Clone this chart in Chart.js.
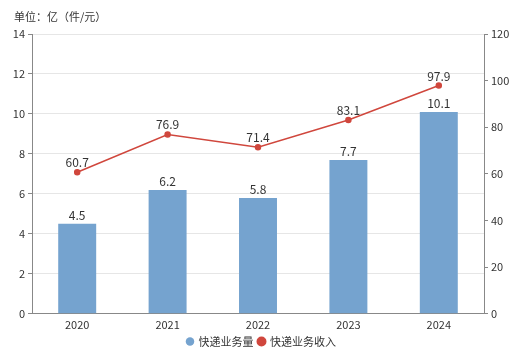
<!DOCTYPE html>
<html><head><meta charset="utf-8">
<script src="https://cdn.jsdelivr.net/npm/chart.js@4/dist/chart.umd.min.js"></script>
<style>html,body{margin:0;padding:0;background:#fff}#wrap{width:523px;height:360px}</style>
</head><body><div id="wrap"><canvas id="c"></canvas></div>
<script>
const categories = ['2020','2021','2022','2023','2024'];
const volume = [4.5, 6.2, 5.8, 7.7, 10.1];
const revenue = [60.7, 76.9, 71.4, 83.1, 97.9];
const leftTicks = [0,2,4,6,8,10,12,14];
const rightTicks = [0,20,40,60,80,100,120];
const unitText = '单位：亿（件/元）';
const FONT = '"Noto Sans CJK SC","Noto Sans",sans-serif';

const labelPlugin = {
  id: 'labels',
  afterDatasetsDraw(chart) {
    const ctx = chart.ctx;
    ctx.save();
    ctx.font = '12px ' + FONT;
    ctx.fillStyle = '#333';
    ctx.textAlign = 'center';
    ctx.textBaseline = 'alphabetic';
    chart.data.datasets.forEach((ds, i) => {
      const meta = chart.getDatasetMeta(i);
      meta.data.forEach((el, j) => {
        const off = ds.type === 'line' ? 5 : 4;
        ctx.fillText(ds.data[j].toFixed(1), el.x, el.y - off);
      });
    });
    ctx.font = '11px ' + FONT;
    ctx.textAlign = 'left';
    ctx.textBaseline = 'middle';
    ctx.fillText(unitText, 14, 17);
    ctx.restore();
  }
};

new Chart(document.getElementById('c'), {
  data: {
    labels: categories,
    datasets: [
      { type: 'line', label: '快递业务收入', data: revenue, yAxisID: 'y1', borderColor: '#d0473d', backgroundColor: '#d0473d', borderWidth: 1.5, pointRadius: 2.5, pointHoverRadius: 2.5, order: 0 },
      { type: 'bar', label: '快递业务量', data: volume, yAxisID: 'y', backgroundColor: '#75a3cf', barPercentage: 0.42, categoryPercentage: 1, order: 1 }
    ]
  },
  options: {
    responsive: true, maintainAspectRatio: false, animation: false,
    layout: { padding: { top: 34, left: 0, right: 0, bottom: 3 } },
    plugins: {
      legend: {
        position: 'bottom', reverse: true,
        labels: { usePointStyle: true, pointStyle: 'circle', boxWidth: 6, boxHeight: 6, padding: 5, color: '#333', font: { family: FONT, size: 11 } }
      },
      tooltip: { enabled: false }
    },
    scales: {
      x: {
        grid: { display: false, drawTicks: true, tickLength: 4, color: '#888' },
        border: { color: '#888' },
        ticks: { color: '#333', font: { family: FONT, size: 11 }, padding: 0 }
      },
      y: {
        position: 'left', min: 0, max: 14,
        afterBuildTicks: s => { s.ticks = leftTicks.map(v => ({ value: v })); },
        afterFit: s => { s.width = 32; },
        grid: { color: '#e6e6e6', tickColor: '#888', tickLength: 4 },
        border: { color: '#888' },
        ticks: { color: '#333', font: { family: FONT, size: 11 }, padding: 3 }
      },
      y1: {
        position: 'right', min: 0, max: 120,
        afterBuildTicks: s => { s.ticks = rightTicks.map(v => ({ value: v })); },
        afterFit: s => { s.width = 39; },
        grid: { drawOnChartArea: false, tickColor: '#888', tickLength: 4 },
        border: { color: '#888' },
        ticks: { color: '#333', font: { family: FONT, size: 11 }, padding: 3 }
      }
    }
  },
  plugins: [labelPlugin]
});
</script></body></html>
